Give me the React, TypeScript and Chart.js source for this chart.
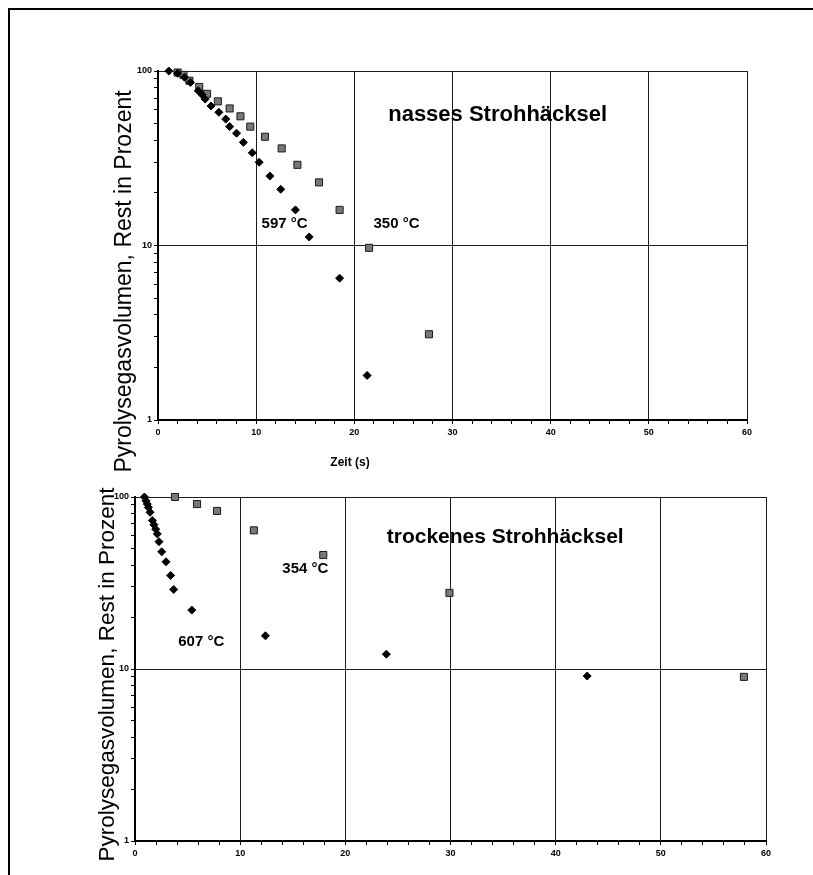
import React, { useEffect, useRef } from 'react';
import { Chart, registerables } from 'chart.js';

Chart.register(...registerables);

// ---- Data: nasses Strohhäcksel (wet) ----
const WET_597_T = [1.1, 2.0, 2.7, 3.3, 4.1, 4.5, 4.8, 5.4, 6.2, 6.9, 7.3, 8.0, 8.7, 9.6, 10.3, 11.4, 12.5, 14.0, 15.4, 18.5, 21.3];
const WET_597_V = [100, 97, 92, 86, 77, 73, 69, 63, 58, 53, 48, 44, 39, 34, 30, 25, 21, 16, 11.2, 6.5, 1.8];
const WET_350_T = [2.0, 2.6, 3.2, 4.2, 5.0, 6.1, 7.3, 8.4, 9.4, 10.9, 12.6, 14.2, 16.4, 18.5, 21.5, 27.6];
const WET_350_V = [98, 95, 88, 81, 74, 67, 61, 55, 48, 42, 36, 29, 23, 16, 9.7, 3.1];

// ---- Data: trockenes Strohhäcksel (dry) ----
const DRY_607_T = [0.9, 1.05, 1.17, 1.27, 1.43, 1.65, 1.8, 1.97, 2.12, 2.28, 2.54, 2.95, 3.39, 3.68, 5.4, 12.4, 23.9, 43.0];
const DRY_607_V = [100, 95, 91, 87, 81.5, 73, 69, 65, 61, 55, 48, 42, 35, 29, 22, 15.6, 12.2, 9.1];
const DRY_354_T = [3.8, 5.9, 7.8, 11.3, 17.9, 29.9, 57.9];
const DRY_354_V = [100, 91, 83, 64, 46, 27.7, 9.0];

// ---- Axis ticks ----
const X_LABELS = [0, 10, 20, 30, 40, 50, 60];
const X_MINOR_STEP = 2;
const Y_LABELS = [1, 10, 100];

const FONT = '"Liberation Sans", Arial, sans-serif';

type Label = { text: string; x: number; y: number; font: string };
type Title = { text: string; dx: number; dy: number; font: string; rot: number };

function makeTextPlugin(labels: Label[], titles: Title[]) {
  return {
    id: 'texts',
    afterDraw(chart: any) {
      const { ctx, chartArea, scales } = chart;
      ctx.save();
      ctx.fillStyle = '#000';
      ctx.textAlign = 'center';
      ctx.textBaseline = 'middle';
      for (const l of labels) {
        ctx.font = l.font;
        ctx.fillText(l.text, scales.x.getPixelForValue(l.x), scales.y.getPixelForValue(l.y));
      }
      for (const t of titles) {
        ctx.save();
        ctx.translate(chartArea.left + t.dx, chartArea.top + t.dy);
        ctx.rotate(t.rot);
        ctx.font = t.font;
        ctx.fillText(t.text, 0, 0);
        ctx.restore();
      }
      ctx.restore();
    },
  };
}

type Panel = {
  hotT: number[]; hotV: number[]; coldT: number[]; coldV: number[];
  padTop: number; padRight: number; xH: number; yW: number;
  labels: Label[]; titles: Title[];
};

function makeConfig(p: Panel): any {
  const xTicks: number[] = [];
  for (let v = X_LABELS[0]; v <= X_LABELS[X_LABELS.length - 1]; v += X_MINOR_STEP) xTicks.push(v);
  const yTicks: number[] = [];
  for (let d = 1; d < 100; d *= 10) for (let m = 1; m < 10; m++) yTicks.push(m * d);
  yTicks.push(100);
  return {
    type: 'scatter',
    data: {
      datasets: [
        {
          data: p.hotT.map((t, i) => ({ x: t, y: p.hotV[i] })),
          pointStyle: 'rectRot', pointRadius: 4, backgroundColor: '#000', borderColor: '#000', borderWidth: 1,
          clip: false,
        },
        {
          data: p.coldT.map((t, i) => ({ x: t, y: p.coldV[i] })),
          pointStyle: 'rect', pointRadius: 5, backgroundColor: '#787878', borderColor: '#1a1a1a', borderWidth: 1,
          clip: false,
        },
      ],
    },
    options: {
      animation: false,
      responsive: false,
      events: [],
      layout: { padding: { left: 0, top: p.padTop, right: p.padRight, bottom: 0 } },
      plugins: { legend: { display: false }, tooltip: { enabled: false } },
      scales: {
        x: {
          type: 'linear', min: 0, max: 60,
          afterBuildTicks: (s: any) => { s.ticks = xTicks.map((v) => ({ value: v })); },
          afterFit: (s: any) => { s.height = p.xH; },
          grid: {
            color: (c: any) => (c.tick && X_LABELS.includes(c.tick.value) ? '#1e1e1e' : 'rgba(0,0,0,0)'),
            tickColor: '#000', tickLength: 4, lineWidth: 1,
          },
          border: { color: '#000', width: 2 },
          ticks: {
            autoSkip: false, maxRotation: 0, padding: 3, color: '#000',
            font: { family: FONT, size: 9, weight: 'bold' },
            callback: (v: any) => (X_LABELS.includes(v) ? String(v) : ''),
          },
        },
        y: {
          type: 'logarithmic', min: 1, max: 100,
          afterBuildTicks: (s: any) => { s.ticks = yTicks.map((v) => ({ value: v })); },
          afterFit: (s: any) => { s.width = p.yW; },
          grid: {
            color: (c: any) => (c.tick && Y_LABELS.includes(c.tick.value) ? '#1e1e1e' : 'rgba(0,0,0,0)'),
            tickColor: '#000', tickLength: 4, lineWidth: 1,
          },
          border: { color: '#000', width: 2 },
          ticks: {
            autoSkip: false, padding: 2, color: '#000',
            font: { family: FONT, size: 9, weight: 'bold' },
            callback: (v: any) => (Y_LABELS.includes(v) ? String(v) : ''),
          },
        },
      },
    },
    plugins: [makeTextPlugin(p.labels, p.titles)],
  };
}

const Y_TITLE = 'Pyrolysegasvolumen, Rest in Prozent';

const PANEL_WET: Panel = {
  hotT: WET_597_T, hotV: WET_597_V, coldT: WET_350_T, coldV: WET_350_V,
  padTop: 71, padRight: 66, xH: 60, yW: 158,
  labels: [
    { text: '597 °C', x: 12.9, y: 13.3, font: `bold 15px ${FONT}` },
    { text: '350 °C', x: 24.3, y: 13.3, font: `bold 15px ${FONT}` },
    { text: 'nasses Strohhäcksel', x: 34.6, y: 56, font: `bold 22px ${FONT}` },
  ],
  titles: [
    { text: Y_TITLE, dx: -33, dy: 210.5, font: `23px ${FONT}`, rot: -Math.PI / 2 },
    { text: 'Zeit (s)', dx: 192, dy: 392, font: `bold 12px ${FONT}`, rot: 0 },
  ],
};

const PANEL_DRY: Panel = {
  hotT: DRY_607_T, hotV: DRY_607_V, coldT: DRY_354_T, coldV: DRY_354_V,
  padTop: 17, padRight: 47, xH: 34, yW: 135,
  labels: [
    { text: '354 °C', x: 16.2, y: 38.1, font: `bold 15px ${FONT}` },
    { text: '607 °C', x: 6.3, y: 14.4, font: `bold 15px ${FONT}` },
    { text: 'trockenes Strohhäcksel', x: 35.2, y: 58.5, font: `bold 21px ${FONT}` },
  ],
  titles: [
    { text: Y_TITLE, dx: -27, dy: 177.5, font: `22.5px ${FONT}`, rot: -Math.PI / 2 },
  ],
};

function ChartCanvas({ panel, top, height }: { panel: Panel; top: number; height: number }) {
  const ref = useRef<HTMLCanvasElement | null>(null);
  useEffect(() => {
    if (!ref.current) return;
    const chart = new Chart(ref.current, makeConfig(panel));
    return () => chart.destroy();
  }, [panel]);
  return (
    <canvas
      ref={ref}
      width={813}
      height={height}
      style={{ position: 'absolute', left: 0, top, width: 813, height, display: 'block' }}
    />
  );
}

export default function App() {
  return (
    <div style={{ position: 'absolute', left: 0, top: 0, width: 813, height: 875, overflow: 'hidden', background: '#fff' }}>
      <div
        style={{
          position: 'absolute', left: 8, top: 8, width: 900, height: 900,
          borderTop: '2px solid #000', borderLeft: '2px solid #000', boxSizing: 'border-box',
        }}
      />
      <ChartCanvas panel={PANEL_WET} top={0} height={480} />
      <ChartCanvas panel={PANEL_DRY} top={480} height={395} />
    </div>
  );
}
